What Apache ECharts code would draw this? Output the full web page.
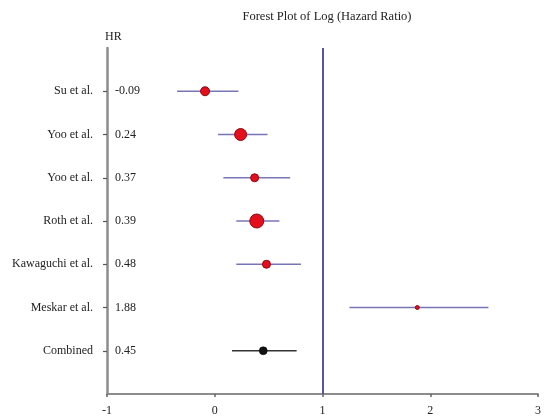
<!DOCTYPE html>
<html>
<head>
<meta charset="utf-8">
<script src="https://cdn.jsdelivr.net/npm/echarts@6/dist/echarts.min.js"></script>
<style>html,body{margin:0;padding:0;background:#fff}#c{width:546px;height:419px}</style>
</head>
<body>
<div id="c"></div>
<script>
// Data (top to bottom)
var studies = ['Su et al.', 'Yoo et al.', 'Yoo et al.', 'Roth et al.', 'Kawaguchi et al.', 'Meskar et al.', 'Combined'];
var hrValues = [-0.09, 0.24, 0.37, 0.39, 0.48, 1.88, 0.45];
var lowerCI = [-0.35, 0.03, 0.08, 0.20, 0.20, 1.25, 0.16];
var upperCI = [0.22, 0.49, 0.70, 0.60, 0.80, 2.54, 0.76];
var weights = [9, 12, 8, 14, 8, 4, 8];
var xTicks = [-1, 0, 1, 2, 3];

var n = studies.length;
// row position: first study at top
function rowOf(i) { return n - i; }
var rowVals = studies.map(function (s, i) { return rowOf(i); });
function nameAt(v) { var i = n - v; return (i >= 0 && i < n) ? studies[i] : ''; }
function hrAt(v) { var i = n - v; return (i >= 0 && i < n) ? hrValues[i].toFixed(2) : ''; }

var ciData = studies.map(function (s, i) { return [lowerCI[i], upperCI[i], rowOf(i), i === n - 1 ? 1 : 0]; });
var ptData = studies.map(function (s, i) {
  var comb = i === n - 1;
  return {
    value: [hrValues[i], rowOf(i)],
    symbolSize: weights[i],
    itemStyle: comb ? { color: '#111', borderColor: '#000', borderWidth: 0.5, opacity: 1 } : { color: '#e3101c', borderColor: '#8e0616', borderWidth: 1, opacity: 1 }
  };
});

var font = 'Liberation Serif';
var chart = echarts.init(document.getElementById('c'));
chart.setOption({
  animation: false,
  title: {
    text: 'Forest Plot of Log (Hazard Ratio)',
    left: 322, top: 5, textAlign: 'center',
    textStyle: { fontFamily: font, fontSize: 12.5, fontWeight: 'normal', color: '#222' }
  },
  grid: { left: 107, right: 8, top: 48, bottom: 25 },
  xAxis: {
    type: 'value', min: -1, max: 3, interval: 1,
    splitLine: { show: false },
    axisLine: { onZero: false, lineStyle: { color: '#8c8c8c', width: 2 } },
    axisTick: { show: true, length: 3, lineStyle: { color: '#666', width: 1.5 } },
    axisLabel: { fontFamily: font, fontSize: 12, color: '#222', margin: 11,
      customValues: xTicks }
  },
  yAxis: [{
    type: 'value', min: 0, max: 8, position: 'left',
    splitLine: { show: false },
    axisLine: { show: true, onZero: false, lineStyle: { color: '#8c8c8c', width: 2.5 } },
    axisTick: { show: true, length: 4, customValues: rowVals, lineStyle: { color: '#555', width: 1.2 } },
    axisLabel: { customValues: rowVals, fontFamily: font, fontSize: 12, color: '#222', margin: 14,
      formatter: function (v) { return nameAt(v); } },
    name: 'HR', nameLocation: 'end', nameGap: 5,
    nameTextStyle: { fontFamily: font, fontSize: 12, color: '#222', align: 'left', padding: [0, 0, 0, -2] }
  }, {
    type: 'value', min: 0, max: 8, position: 'left',
    splitLine: { show: false },
    axisLine: { show: false, onZero: false }, axisTick: { show: false },
    axisLabel: { inside: true, customValues: rowVals, fontFamily: font, fontSize: 12, color: '#222', margin: 8,
      formatter: function (v) { return hrAt(v); } }
  }],
  series: [{
    type: 'custom',
    data: ciData,
    encode: { x: [0, 1], y: 2 },
    renderItem: function (params, api) {
      var a = api.coord([api.value(0), api.value(2)]);
      var b = api.coord([api.value(1), api.value(2)]);
      var comb = api.value(3) === 1;
      return {
        type: 'line',
        shape: { x1: a[0], y1: a[1], x2: b[0], y2: b[1] },
        style: { stroke: comb ? '#333' : '#7876b6', lineWidth: 1.6 }
      };
    },
    z: 2
  }, {
    type: 'scatter',
    symbol: 'circle',
    data: ptData,
    z: 3,
    markLine: {
      silent: true, symbol: 'none', label: { show: false },
      lineStyle: { color: '#5656a8', width: 2, type: 'solid' },
      data: [{ xAxis: 1 }]
    }
  }]
});
</script>
</body>
</html>
